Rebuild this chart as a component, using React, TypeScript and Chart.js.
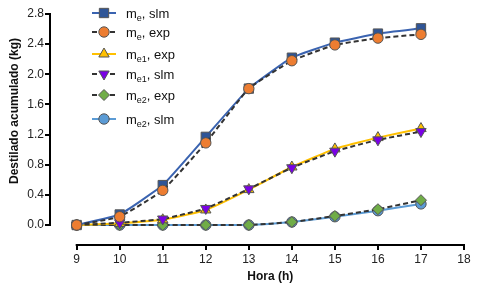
import React, { useEffect, useRef } from 'react';
import { Chart, registerables } from 'chart.js';

Chart.register(...registerables);

const hours = [9, 10, 11, 12, 13, 14, 15, 16, 17];
const meSlm = [0, 0.14, 0.53, 1.17, 1.81, 2.22, 2.42, 2.54, 2.61];
const meExp = [0, 0.11, 0.46, 1.09, 1.81, 2.18, 2.39, 2.48, 2.53];
const me1Exp = [0, 0.02, 0.07, 0.2, 0.47, 0.77, 1.01, 1.16, 1.28];
const me1Slm = [0, 0.03, 0.08, 0.22, 0.48, 0.76, 0.98, 1.13, 1.24];
const me2Exp = [0, 0, 0, 0, 0, 0.04, 0.12, 0.21, 0.33];
const me2Slm = [0, 0, 0, 0, 0, 0.04, 0.11, 0.19, 0.28];
const xTicks = [9, 10, 11, 12, 13, 14, 15, 16, 17, 18];
const yTicks = [0, 0.4, 0.8, 1.2, 1.6, 2.0, 2.4, 2.8];
const xTitle = 'Hora (h)';
const yTitle = 'Destilado acumulado (kg)';
const labelMain = ['m', 'm', 'm', 'm', 'm', 'm'];
const labelSub = ['e', 'e', 'e1', 'e1', 'e2', 'e2'];
const labelRest = [', slm', ', exp', ', exp', ', slm', ', exp', ', slm'];

const FONT = '"Liberation Sans", Arial, sans-serif';

type Style = {
  line: string;
  dash: number[];
  fill: string;
  stroke: string;
  shape: string;
  r: number;
  rot: number;
};

const styles: Style[] = [
  { line: '#3a63b0', dash: [], fill: '#2f5597', stroke: '#555', shape: 'rect', r: 6.6, rot: 0 },
  { line: '#333333', dash: [5, 3], fill: '#ed7d31', stroke: '#555', shape: 'circle', r: 5.2, rot: 0 },
  { line: '#ffc000', dash: [], fill: '#ffc000', stroke: '#555', shape: 'triangle', r: 6, rot: 0 },
  { line: '#333333', dash: [5, 3], fill: '#7a00e6', stroke: '#555', shape: 'triangle', r: 6, rot: 180 },
  { line: '#333333', dash: [5, 3], fill: '#70ad47', stroke: '#555', shape: 'rectRot', r: 5.5, rot: 0 },
  { line: '#5b9bd5', dash: [], fill: '#5b9bd5', stroke: '#555', shape: 'circle', r: 5.2, rot: 0 },
];
const seriesData = [meSlm, meExp, me1Exp, me1Slm, me2Exp, me2Slm];
// drawing order: first in list is drawn on top
const drawOrder = [1, 0, 3, 2, 4, 5];
const legendY = [13, 32, 54, 74, 95, 119];

function drawMarker(ctx: CanvasRenderingContext2D, s: Style, x: number, y: number) {
  ctx.save();
  ctx.fillStyle = s.fill;
  ctx.strokeStyle = s.stroke;
  ctx.lineWidth = 1;
  ctx.setLineDash([]);
  ctx.beginPath();
  const r = s.r;
  if (s.shape === 'rect') {
    const h = r * Math.SQRT1_2;
    ctx.rect(x - h, y - h, 2 * h, 2 * h);
  } else if (s.shape === 'circle') {
    ctx.arc(x, y, r, 0, Math.PI * 2);
  } else if (s.shape === 'triangle') {
    let rad = (s.rot * Math.PI) / 180;
    ctx.moveTo(x + Math.sin(rad) * r, y - Math.cos(rad) * r);
    rad += (2 * Math.PI) / 3;
    ctx.lineTo(x + Math.sin(rad) * r, y - Math.cos(rad) * r);
    rad += (2 * Math.PI) / 3;
    ctx.lineTo(x + Math.sin(rad) * r, y - Math.cos(rad) * r);
    ctx.closePath();
  } else if (s.shape === 'rectRot') {
    ctx.moveTo(x, y - r);
    ctx.lineTo(x + r, y);
    ctx.lineTo(x, y + r);
    ctx.lineTo(x - r, y);
    ctx.closePath();
  }
  ctx.fill();
  ctx.stroke();
  ctx.restore();
}

export default function App() {
  const ref = useRef<HTMLCanvasElement | null>(null);

  useEffect(() => {
    if (!ref.current) return;

    const axesPlugin = {
      id: 'customAxes',
      beforeDatasetsDraw(chart: any) {
        const ctx = chart.ctx as CanvasRenderingContext2D;
        const x = chart.scales.x;
        const y = chart.scales.y;
        const a = chart.chartArea;
        ctx.save();
        ctx.strokeStyle = '#000';
        ctx.lineWidth = 2;
        ctx.beginPath();
        ctx.moveTo(a.left, y.getPixelForValue(yTicks[0]) + 1);
        ctx.lineTo(a.left, y.getPixelForValue(yTicks[yTicks.length - 1]) - 1);
        ctx.moveTo(x.getPixelForValue(xTicks[0]) - 1, a.bottom);
        ctx.lineTo(x.getPixelForValue(xTicks[xTicks.length - 1]) + 1, a.bottom);
        ctx.stroke();

        ctx.fillStyle = '#111';
        ctx.font = `bold 12px ${FONT}`;
        ctx.textAlign = 'center';
        ctx.textBaseline = 'middle';
        const xc = (x.getPixelForValue(xTicks[0]) + x.getPixelForValue(xTicks[xTicks.length - 1])) / 2;
        ctx.fillText(xTitle, xc, 277);
        ctx.save();
        ctx.translate(15, 111);
        ctx.rotate(-Math.PI / 2);
        ctx.fillText(yTitle, 0, 0);
        ctx.restore();
        ctx.restore();
      },
      afterDraw(chart: any) {
        const ctx = chart.ctx as CanvasRenderingContext2D;
        for (let i = 0; i < styles.length; i++) {
          const s = styles[i];
          const yy = legendY[i];
          ctx.save();
          ctx.strokeStyle = s.line;
          ctx.lineWidth = 2;
          ctx.setLineDash(s.dash.length ? [5, 4] : []);
          ctx.beginPath();
          ctx.moveTo(92, yy);
          ctx.lineTo(116, yy);
          ctx.stroke();
          ctx.restore();
          drawMarker(ctx, s, 104, yy);
          ctx.save();
          ctx.fillStyle = '#111';
          ctx.textBaseline = 'alphabetic';
          ctx.textAlign = 'left';
          let tx = 126;
          const base = yy + 4.5;
          ctx.font = `13px ${FONT}`;
          ctx.fillText(labelMain[i], tx, base);
          tx += ctx.measureText(labelMain[i]).width;
          ctx.font = `9px ${FONT}`;
          ctx.fillText(labelSub[i], tx, base + 3);
          tx += ctx.measureText(labelSub[i]).width;
          ctx.font = `13px ${FONT}`;
          ctx.fillText(labelRest[i], tx, base);
          ctx.restore();
        }
      },
    };

    const datasets = drawOrder.map((idx) => {
      const s = styles[idx];
      return {
        label: labelMain[idx] + labelSub[idx] + labelRest[idx],
        data: hours.map((h, i) => ({ x: h, y: seriesData[idx][i] })),
        borderColor: s.line,
        borderWidth: 2,
        borderDash: s.dash,
        backgroundColor: s.fill,
        pointStyle: s.shape,
        rotation: s.rot,
        pointRadius: s.r,
        pointHoverRadius: s.r,
        pointBackgroundColor: s.fill,
        pointBorderColor: s.stroke,
        pointBorderWidth: 1,
        tension: 0.12,
        fill: false,
      };
    });

    const chart = new Chart(ref.current, {
      type: 'line',
      data: { datasets } as any,
      plugins: [axesPlugin],
      options: {
        animation: false,
        responsive: false,
        maintainAspectRatio: false,
        layout: { padding: { top: 14, right: 16, left: 0, bottom: 0 } },
        plugins: { legend: { display: false }, tooltip: { enabled: false } },
        scales: {
          x: {
            type: 'linear',
            min: 8.38,
            max: 18,
            afterBuildTicks: (scale: any) => {
              scale.ticks = xTicks.map((v) => ({ value: v }));
            },
            afterFit: (scale: any) => {
              scale.height = 43;
            },
            border: { display: false },
            grid: { drawOnChartArea: false, drawTicks: true, tickLength: 5, color: '#000', lineWidth: 2 },
            ticks: {
              color: '#222',
              font: { family: FONT, size: 12 },
              padding: 2,
              maxRotation: 0,
              autoSkip: false,
              callback: (v: any) => String(v),
            },
          },
          y: {
            type: 'linear',
            min: -0.265,
            max: 2.8,
            afterBuildTicks: (scale: any) => {
              scale.ticks = yTicks.map((v) => ({ value: v }));
            },
            afterFit: (scale: any) => {
              scale.width = 50;
            },
            border: { display: false },
            grid: { drawOnChartArea: false, drawTicks: true, tickLength: 5, color: '#000', lineWidth: 2 },
            ticks: {
              color: '#222',
              font: { family: FONT, size: 12 },
              padding: 1,
              autoSkip: false,
              callback: (v: any) => Number(v).toFixed(1),
            },
          },
        },
      } as any,
    });
    return () => chart.destroy();
  }, []);

  return (
    <div style={{ position: 'fixed', left: 0, top: 0, width: 480, height: 288, background: '#fff' }}>
      <canvas ref={ref} width={480} height={288} style={{ display: 'block', width: 480, height: 288 }} />
    </div>
  );
}
